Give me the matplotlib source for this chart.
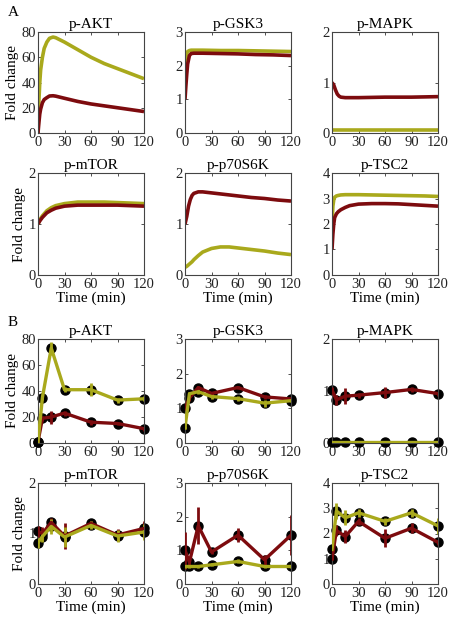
import matplotlib
matplotlib.use("Agg")
import matplotlib.pyplot as plt
import numpy as np

plt.rcParams['font.family'] = ['Liberation Serif', 'DejaVu Serif']
plt.rcParams['font.size'] = 11

RED = '#7d0b0e'
OLIVE = '#a9a91c'

# ---- panel A: model curves ----
t_akt = [0, 1, 2, 3, 5, 7, 10, 13, 17, 20, 30, 45, 60, 75, 90, 105, 120]
akt_ol = [0, 25, 40, 50, 60, 67, 72, 75, 76, 75.5, 72, 66, 60, 55, 51, 47, 43]
akt_rd = [0, 8, 15, 19, 24, 26.5, 28, 29.3, 29.5, 29.2, 27.5, 25, 23, 21.5, 20, 18.5, 17]

t_gsk = [0, 1, 2, 3, 5, 7, 10, 20, 40, 60, 80, 100, 120]
gsk_ol = [1.8, 2.15, 2.35, 2.42, 2.45, 2.46, 2.46, 2.46, 2.45, 2.45, 2.44, 2.43, 2.42]
gsk_rd = [1.0, 1.4, 1.75, 2.05, 2.3, 2.36, 2.37, 2.37, 2.36, 2.35, 2.33, 2.32, 2.3]

t_mapk = [0, 2, 4, 6, 8, 10, 15, 30, 60, 90, 120]
mapk_ol = [0.05, 0.05, 0.05, 0.05, 0.05, 0.05, 0.05, 0.05, 0.05, 0.05, 0.05]
mapk_rd = [1.0, 0.95, 0.85, 0.77, 0.73, 0.71, 0.7, 0.7, 0.71, 0.71, 0.72]

t_mtor = [0, 2, 5, 10, 15, 20, 30, 45, 60, 75, 90, 105, 120]
mtor_ol = [1.0, 1.08, 1.16, 1.26, 1.32, 1.36, 1.4, 1.43, 1.43, 1.43, 1.42, 1.41, 1.4]
mtor_rd = [1.0, 1.06, 1.13, 1.22, 1.27, 1.31, 1.35, 1.37, 1.37, 1.37, 1.37, 1.36, 1.35]

t_p70 = [0, 2, 4, 6, 8, 10, 15, 20, 30, 40, 50, 60, 75, 90, 105, 120]
p70_rd = [1.0, 1.15, 1.35, 1.48, 1.56, 1.6, 1.63, 1.63, 1.61, 1.59, 1.57, 1.55, 1.52, 1.5, 1.47, 1.45]
p70_ol = [0.15, 0.17, 0.2, 0.23, 0.26, 0.3, 0.38, 0.45, 0.52, 0.55, 0.55, 0.53, 0.5, 0.47, 0.43, 0.4]

t_tsc = [0, 1, 2, 3, 5, 7, 10, 15, 20, 30, 45, 60, 75, 90, 105, 120]
tsc_ol = [2.0, 2.7, 2.95, 3.05, 3.1, 3.12, 3.14, 3.15, 3.15, 3.15, 3.14, 3.13, 3.12, 3.11, 3.1, 3.08]
tsc_rd = [1.0, 1.6, 2.0, 2.25, 2.4, 2.48, 2.56, 2.65, 2.72, 2.78, 2.8, 2.8, 2.79, 2.76, 2.73, 2.7]

# ---- panel B: experimental data ----
t_exp = [0, 5, 15, 30, 60, 90, 120]
eakt_ol = [1, 35, 73, 41, 41, 33, 34]
eakt_ol_err = [0.5, 2, 5, 2, 5, 2, 2]
eakt_rd = [1, 19, 20, 23, 16, 15, 11]
eakt_rd_err = [0.5, 2, 5, 2, 2, 1.5, 1.5]

egsk_ol = [0.44, 1.42, 1.48, 1.34, 1.28, 1.15, 1.22]
egsk_ol_err = [0.05, 0.05, 0.08, 0.08, 0.08, 0.1, 0.05]
egsk_rd = [1.0, 1.3, 1.6, 1.43, 1.6, 1.33, 1.27]
egsk_rd_err = [0.05, 0.08, 0.05, 0.05, 0.05, 0.05, 0.05]

emapk_ol = [0.01, 0.01, 0.01, 0.01, 0.01, 0.01, 0.01]
emapk_ol_err = [0.01, 0.01, 0.01, 0.01, 0.01, 0.01, 0.01]
emapk_rd = [1.02, 0.83, 0.9, 0.92, 0.97, 1.03, 0.95]
emapk_rd_err = [0.05, 0.1, 0.15, 0.05, 0.1, 0.04, 0.04]

emtor_ol = [0.82, 0.94, 1.14, 0.93, 1.16, 0.95, 1.03]
emtor_ol_err = [0.1, 0.1, 0.15, 0.2, 0.08, 0.12, 0.15]
emtor_rd = [1.04, 1.0, 1.22, 0.95, 1.2, 0.97, 1.1]
emtor_rd_err = [0.1, 0.12, 0.08, 0.25, 0.05, 0.12, 0.15]

ep70_ol = [0.52, 0.52, 0.52, 0.57, 0.67, 0.52, 0.52]
ep70_ol_err = [0.03, 0.05, 0.04, 0.05, 0.06, 0.03, 0.03]
ep70_rd = [1.0, 0.65, 1.73, 0.95, 1.45, 0.72, 1.45]
ep70_rd_err = [0.55, 0.1, 0.55, 0.05, 0.2, 0.15, 0.6]

etsc_ol = [1.37, 2.89, 2.62, 2.82, 2.48, 2.82, 2.3]
etsc_ol_err = [0.1, 0.3, 0.3, 0.15, 0.15, 0.15, 0.3]
etsc_rd = [1.0, 2.12, 1.88, 2.48, 1.81, 2.21, 1.65]
etsc_rd_err = [0.05, 0.2, 0.25, 0.15, 0.35, 0.2, 0.1]

names = ['p-AKT', 'p-GSK3', 'p-MAPK', 'p-mTOR', 'p-p70S6K', 'p-TSC2']
model = [(t_akt, akt_rd, akt_ol), (t_gsk, gsk_rd, gsk_ol), (t_mapk, mapk_rd, mapk_ol),
         (t_mtor, mtor_rd, mtor_ol), (t_p70, p70_rd, p70_ol), (t_tsc, tsc_rd, tsc_ol)]
exper = [(eakt_rd, eakt_rd_err, eakt_ol, eakt_ol_err),
         (egsk_rd, egsk_rd_err, egsk_ol, egsk_ol_err),
         (emapk_rd, emapk_rd_err, emapk_ol, emapk_ol_err),
         (emtor_rd, emtor_rd_err, emtor_ol, emtor_ol_err),
         (ep70_rd, ep70_rd_err, ep70_ol, ep70_ol_err),
         (etsc_rd, etsc_rd_err, etsc_ol, etsc_ol_err)]
ymax_A = [80, 3, 2, 2, 2, 4]
ymax_B = [80, 3, 2, 2, 3, 4]
ystep = [20, 1, 1, 1, 1, 1]

W, H = 454, 617
fig = plt.figure(figsize=(W / 100, H / 100), dpi=100)
cols = [38, 185, 332]
rows = [(32, 133), (173, 275), (339, 443), (483, 584)]
aw = 106


def mk_ax(col, row):
    top, bot = rows[row]
    ax = fig.add_axes([cols[col] / W, 1 - bot / H, aw / W, (bot - top) / H])
    ax.set_xlim(0, 120)
    ax.set_xticks([0, 30, 60, 90, 120])
    ax.tick_params(direction='in', top=True, right=True, length=2.5, width=0.6,
                   labelsize=10.5, colors='#333333', labelcolor='#222222')
    ax.tick_params(axis='x', pad=2.5)
    ax.tick_params(axis='y', pad=1.5)
    for s in ax.spines.values():
        s.set_color('#444444')
        s.set_linewidth(0.8)
    return ax


for i in range(6):
    c, r = i % 3, i // 3
    # panel A
    ax = mk_ax(c, r)
    t, rd, ol = model[i]
    ax.plot(t, ol, color=OLIVE, lw=2.6, solid_capstyle='butt')
    ax.plot(t, rd, color=RED, lw=2.6, solid_capstyle='butt')
    ax.set_ylim(0, ymax_A[i])
    ax.set_yticks(np.arange(0, ymax_A[i] + ystep[i] / 2, ystep[i]))
    ax.set_title(names[i], fontsize=11, pad=3)
    if c == 0:
        ax.set_ylabel('Fold change', labelpad=2)
    if r == 1:
        ax.set_xlabel('Time (min)', labelpad=0)

    # panel B
    ax = mk_ax(c, r + 2)
    rd, rde, ol, ole = exper[i]
    ax.plot(t_exp, rd, 'o', color='black', ms=6.5, zorder=2, clip_on=False)
    ax.plot(t_exp, ol, 'o', color='black', ms=6.5, zorder=2, clip_on=False)
    ax.errorbar(t_exp, rd, yerr=rde, color=RED, lw=2.4, elinewidth=2, capsize=0, zorder=3)
    ax.errorbar(t_exp, ol, yerr=ole, color=OLIVE, lw=2.4, elinewidth=2, capsize=0, zorder=3)
    ax.set_ylim(0, ymax_B[i])
    ax.set_yticks(np.arange(0, ymax_B[i] + ystep[i] / 2, ystep[i]))
    ax.set_title(names[i], fontsize=11, pad=3)
    if c == 0:
        ax.set_ylabel('Fold change', labelpad=2)
    if r == 1:
        ax.set_xlabel('Time (min)', labelpad=0)

fig.text(8 / W, 1 - 12 / H, 'A', fontsize=11, va='center')
fig.text(8 / W, 1 - 322 / H, 'B', fontsize=11, va='center')

fig.savefig('out.png', dpi=100, facecolor='white')
